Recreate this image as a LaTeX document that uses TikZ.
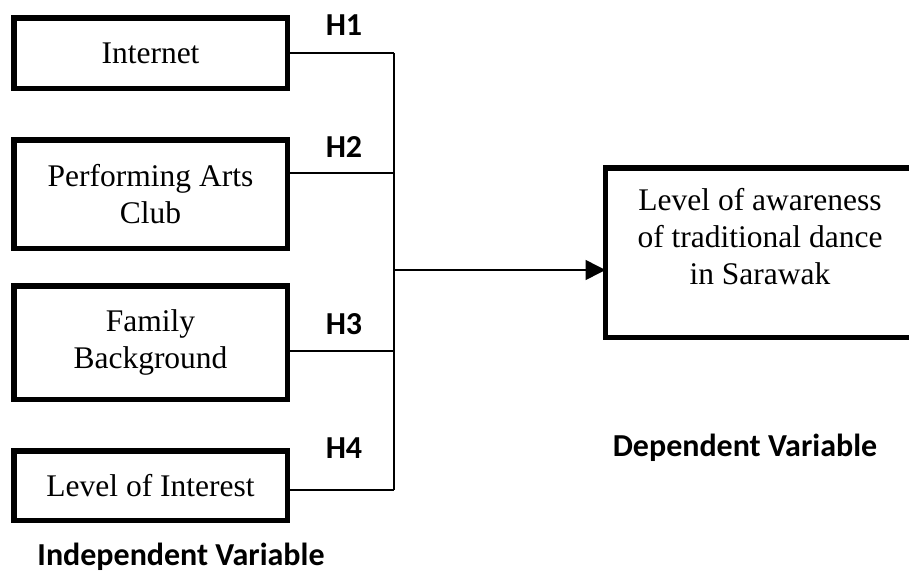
\documentclass[tikz,border=0pt]{standalone}
\usepackage{fontspec}
\setmainfont{Liberation Serif}
\newfontfamily\calfont{Carlito}
\usetikzlibrary{arrows.meta}
\tikzset{
  varbox/.style={draw, line width=5.5pt, inner sep=0pt, align=center,
    font=\fontsize{31.5}{37}\selectfont},
  hlab/.style={font=\calfont\bfseries\fontsize{32}{38}\selectfont, inner sep=0pt},
  conn/.style={line width=1.5pt},
}
\begin{document}
\begin{tikzpicture}[x=1pt,y=-1pt]
\clip (0,0) rectangle (909,581);
\fill[white] (0,0) rectangle (909,581);
\node[varbox, minimum width=273.5pt, minimum height=70.5pt] (b1) at (150.5,53) {Internet};
\node[varbox, minimum width=273.5pt, minimum height=108.5pt] (b2) at (150.5,194) {Performing Arts\\Club};
\node[varbox, minimum width=273.5pt, minimum height=113.5pt] (b3) at (150.5,342.5) {Family\\Background};
\node[varbox, minimum width=273.5pt, minimum height=69.5pt] (b4) at (150.5,485.5) {Level of Interest};
\node[varbox, minimum width=312pt, minimum height=169.5pt] (dv) at (761.5,252.5) {};
\node[align=center, inner sep=0pt, font=\fontsize{31.5}{37}\selectfont] (dvt) at (760,237) {Level of awareness\\of traditional dance\\in Sarawak};
\coordinate (c1) at (394,53);
\coordinate (c2) at (394,173);
\coordinate (c3) at (394,351);
\coordinate (c4) at (394,490);
\coordinate (cj) at (394,270);
\draw[conn] (c1 -| b1.east) -- (c1);
\draw[conn] (c2 -| b2.east) -- (c2);
\draw[conn] (c3 -| b3.east) -- (c3);
\draw[conn] (c4 -| b4.east) -- (c4);
\draw[conn] (c1) -- (c4);
\draw[conn, -{Triangle[length=20pt,width=20pt]}, shorten >=-2.75pt] (cj) -- (cj -| dv.west);
\node[hlab] (h1) at (344,25) {H1};
\node[hlab] (h2) at (344,147) {H2};
\node[hlab] (h3) at (344,324) {H3};
\node[hlab] (h4) at (344,448) {H4};
\node[hlab] (dvl) at (745,448) {Dependent Variable};
\node[hlab] (ivl) at (181,557) {Independent Variable};
\end{tikzpicture}
\end{document}
